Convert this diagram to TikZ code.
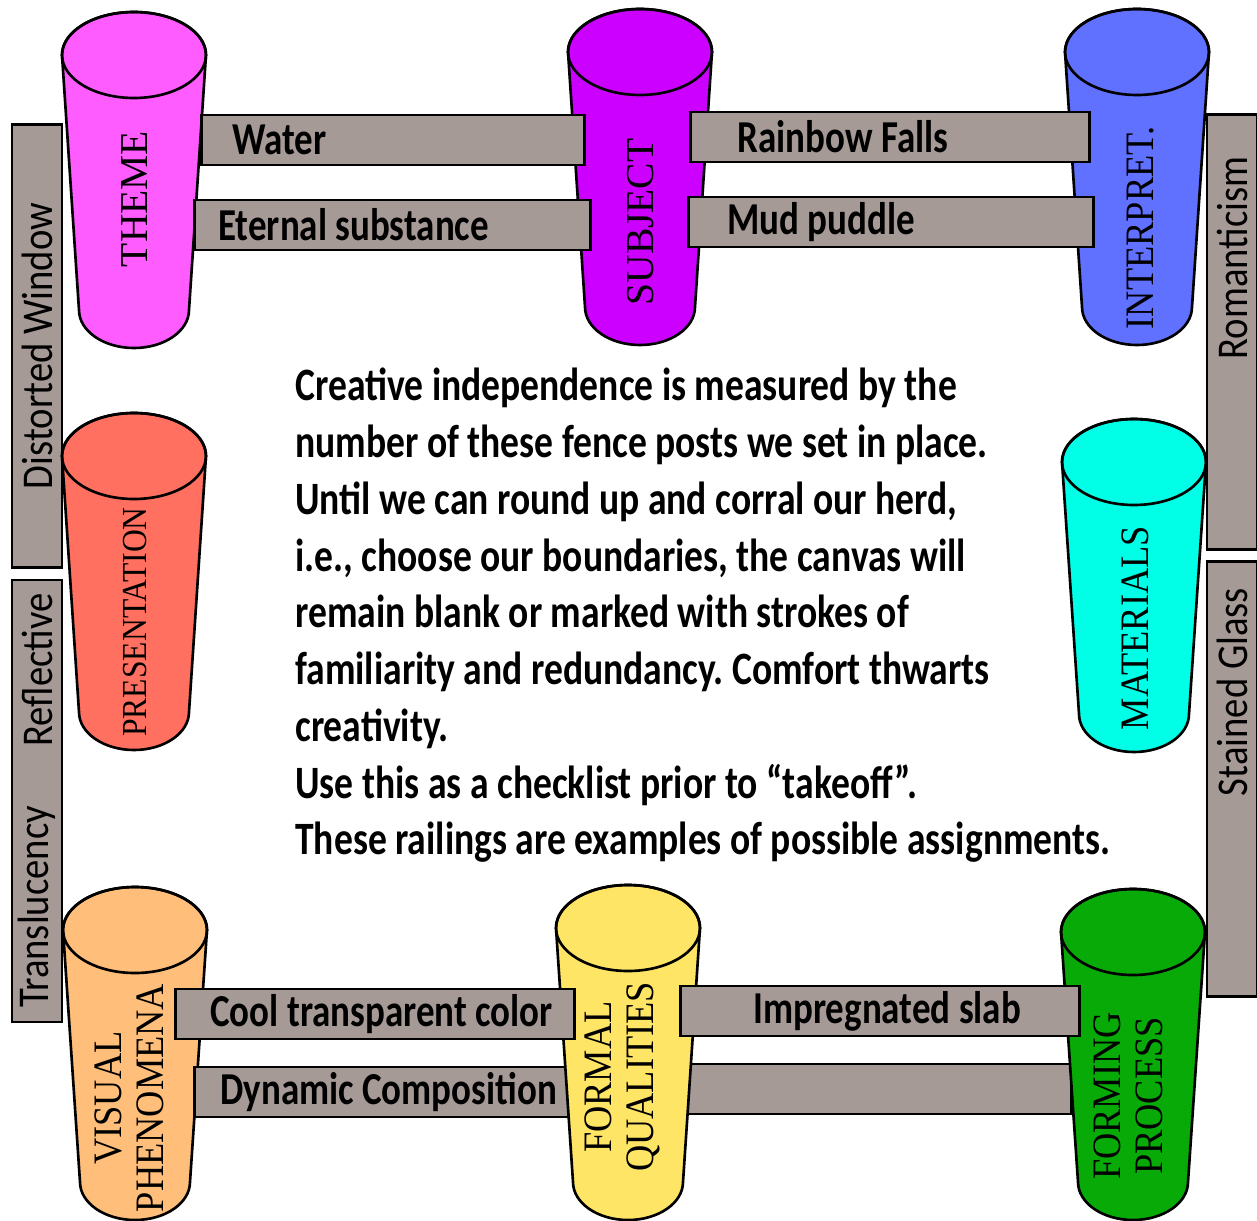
\documentclass[tikz,border=0pt]{standalone}
\usepackage{fontspec}
\usepackage{tikz}
\usetikzlibrary{positioning}
\newfontfamily\railfont{Carlito}[FakeStretch=0.81]
\newfontfamily\sidefont{Carlito}[FakeStretch=0.88]
\newfontfamily\postfont{Liberation Serif}
\newfontfamily\postnarrow{Liberation Serif}[FakeStretch=0.9]
\definecolor{railgrey}{HTML}{A69A96}
\definecolor{themecol}{HTML}{FF5CFF}
\definecolor{subjcol}{HTML}{CC00FF}
\definecolor{interpcol}{HTML}{6070FF}
\definecolor{prescol}{HTML}{FF7060}
\definecolor{matcol}{HTML}{00FFE6}
\definecolor{viscol}{HTML}{FFBF7A}
\definecolor{formalcol}{HTML}{FFE566}
\definecolor{formingcol}{HTML}{08AA08}
\tikzset{post/.style={draw=black,line width=1.5pt,line join=round}}
\tikzset{rail/.style={draw=black,fill=railgrey,line width=1.5pt,inner sep=0pt,minimum height=1cm}}
\tikzset{railtext/.style={font=\railfont\bfseries\fontsize{26}{30}\selectfont,inner sep=0pt}}
\tikzset{sidetext/.style={font=\sidefont\fontsize{25}{30}\selectfont,inner sep=0pt,rotate=90}}
\tikzset{postlabel/.style={font=\postfont\fontsize{22.5}{24}\selectfont,rotate=90,align=center,inner sep=0pt}}
\tikzset{narrowlabel/.style={postlabel,font=\postnarrow\fontsize{23}{24}\selectfont}}
% cx, top y, bottom y, colour
\newcommand{\fencepost}[4]{%
  \filldraw[post,fill=#4] ({#1-72},#2) -- ({#1-55},#3)
    arc[start angle=180,end angle=0,x radius=55,y radius=38]
    -- ({#1+72},#2) arc[start angle=0,end angle=-180,x radius=72,y radius=43] -- cycle;
  \draw[post] (#1,#2) ellipse[x radius=72,y radius=43];}
\frenchspacing
\begin{document}
\begin{tikzpicture}[x=0.02cm,y=-0.02cm]
\useasboundingbox (0,0) rectangle (1257,1220);
% side railings
\node[rail,rotate=90,minimum width=8.86cm,font=\sidefont\fontsize{25}{30}\selectfont] (distorted) at (37,346) {Distorted Window};
\node[rail,rotate=90,minimum width=8.84cm] (translucency) at (37,801) {};
\node[sidetext] (reflectivelbl) at (37,670) {Reflective};
\node[sidetext] (translucencylbl) at (37,907) {Translucency};
\node[rail,rotate=90,minimum width=8.7cm] (romanticism) at (1232,332) {};
\node[sidetext] (romanticismlbl) at (1232,258) {Romanticism};
\node[rail,rotate=90,minimum width=8.7cm] (stained) at (1232,779) {};
\node[sidetext] (stainedlbl) at (1232,692) {Stained Glass};

% top row
\fencepost{134}{55}{310}{themecol}
\fencepost{640}{52}{307}{subjcol}
\fencepost{1137}{52}{307}{interpcol}
\node[postlabel] (theme) at (135,199) {THEME};
\node[postlabel] (subject) at (641,222) {SUBJECT};
\node[narrowlabel] (interp) at (1141,228) {INTERPRET.};

\node[rail,minimum width=7.66cm,anchor=west] (water) at (200,140) {};
\node[railtext,right=0.64cm of water.west] (waterlbl) {Water};
\node[rail,minimum width=7.92cm,anchor=west] (eternal) at (193,225) {};
\node[railtext,right=0.5cm of eternal.west] (eternallbl) {Eternal substance};
\node[rail,minimum width=7.98cm,anchor=west] (rainbow) at (689,137) {};
\node[railtext,right=0.96cm of rainbow.west] (rainbowlbl) {Rainbow Falls};
\node[rail,minimum width=8.1cm,anchor=west] (mud) at (687,222) {};
\node[railtext,right=0.8cm of mud.west] (mudlbl) {Mud puddle};

% middle row
\fencepost{134}{456}{712}{prescol}
\fencepost{1134}{462}{714}{matcol}
\node[postlabel,font=\postnarrow\fontsize{20}{24}\selectfont] (presentation) at (135,622) {PRESENTATION};
\node[narrowlabel] (materials) at (1135,628) {MATERIALS};

% bottom row
\fencepost{135}{930}{1182}{viscol}
\node[rail,minimum width=8.2cm,anchor=west] (dynamic) at (193,1092) {};
\node[railtext,right=0.54cm of dynamic.west] (dynamiclbl) {Dynamic Composition};
\node[rail,minimum width=8.4cm,anchor=west] (spare) at (650,1089) {};
\fencepost{628}{928}{1182}{formalcol}
\fencepost{1133}{932}{1182}{formingcol}
\node[rail,minimum width=7.98cm,anchor=west] (cool) at (174,1014) {};
\node[railtext,right=0.72cm of cool.west] (coollbl) {Cool transparent color};
\node[rail,minimum width=7.98cm,anchor=west] (impreg) at (679,1011) {};
\node[railtext,right=1.48cm of impreg.west] (impreglbl) {Impregnated slab};
\node[narrowlabel] (visual) at (129,1098) {VISUAL\\PHENOMENA};
\node[narrowlabel] (formal) at (622,1077) {FORMAL\\QUALITIES};
\node[narrowlabel] (forming) at (1128,1096) {FORMING\\PROCESS};

% the note
\node[anchor=north west,align=left,inner sep=0pt,
  font=\railfont\bfseries\fontsize{26.4}{32.3}\selectfont] (note) at (295,368)
  {Creative independence is measured by the\\
   number of these fence posts we set in place.\\
   Until we can round up and corral our herd,\\
   i.e., choose our boundaries, the canvas will\\
   remain blank or marked with strokes of\\
   familiarity and redundancy. Comfort thwarts\\
   creativity.\\
   Use this as a checklist prior to “takeoff”.\\
   These railings are examples of possible assignments.};
\end{tikzpicture}
\end{document}
